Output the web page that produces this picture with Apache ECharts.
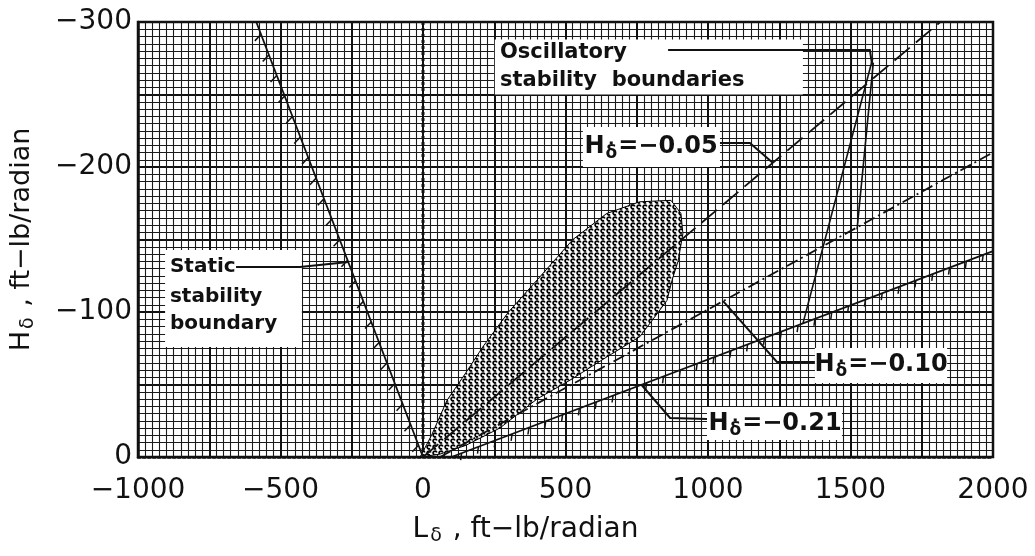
<!DOCTYPE html>
<html><head><meta charset="utf-8">
<script src="https://cdn.jsdelivr.net/npm/echarts@6/dist/echarts.min.js"></script>
<style>html,body{margin:0;padding:0;background:#fff}#c{width:1035px;height:556px}</style>
</head><body><div id="c"></div>
<script>
// ---------- data ----------
const xTickLabels = [-1000, -500, 0, 500, 1000, 1500, 2000];
const yTickLabels = [-300, -200, -100, 0];

// static stability boundary (L, H)
const staticL = [-585, 0];
const staticH = [-300, 0];
// H_delta-dot = -0.05 (long dashes)
const hd05L = [0, 1815];
const hd05H = [0, -300];
// H_delta-dot = -0.10 (dash-dot)
const hd10L = [60, 2000];
const hd10H = [0, -210];
// H_delta-dot = -0.21 (solid, ticked)
const hd21L = [100, 2000];
const hd21H = [0, -142];
// oscillatory stability boundaries (steep branches)
const oscAL = [1333, 1578];
const oscAH = [-92, -275];
const oscBL = [1523, 1580];
const oscBH = [-157, -272];
// zero line
const zeroL = [0, 0];
const zeroH = [0, -300];
// stippled region outline
const shadeL = [-10, 30, 84, 150, 210, 300, 400, 526, 645, 760, 870, 905, 912, 895, 874, 856, 807, 761, 645, 516, 400, 270, 150, 60];
const shadeH = [0, -15, -39, -58, -76, -100, -122, -150, -168, -176, -177, -168, -154, -135, -122, -108, -95, -83, -69, -53, -40, -20, -8, -2];

// ---------- styling / annotations ----------
const FONT = '"DejaVu Sans", sans-serif';
const INK = '#111';
const RICH = {
  h: {fontSize: 24, fontWeight: 'bold', fontFamily: FONT, color: INK},
  s: {fontSize: 17, fontWeight: 'bold', fontFamily: FONT, color: INK, padding: [14, 1, 0, 1]}
};
const notes = [
  {box: [252, -288, 1333, -250], size: 21,
   lines: [{t: 'Oscillatory', at: [270, -278.6]}, {t: 'stability  boundaries', at: [270, -259.3]}],
   leader: [[860, -280.7], [1568, -280.7], [1575, -271.7]]},
  {box: [561, -227.6, 1042, -200],
   lines: [{t: '{h|H}{s|δ̇}{h|=−0.05}', at: [800, -213.8], align: 'center'}],
   leader: [[1042, -216.6], [1147, -216.6], [1228, -202.8]]},
  {box: [-905, -142.8, -425, -75.9], size: 20,
   lines: [{t: 'Static', at: [-888, -131]}, {t: 'stability', at: [-888, -110.3]}, {t: 'boundary', at: [-888, -91.7]}],
   leader: [[-656, -131], [-432, -131], [-262, -134.5]]},
  {box: [1375, -75.2, 1839, -51],
   lines: [{t: '{h|H}{s|δ̇}{h|=−0.10}', at: [1607, -63.4], align: 'center'}],
   leader: [[1375, -65.5], [1242, -65.5], [1053, -107.5]]},
  {box: [996.5, -34.5, 1470, -11.7],
   lines: [{t: '{h|H}{s|δ̇}{h|=−0.21}', at: [1235, -22.8], align: 'center'}],
   leader: [[996.5, -26.2], [867, -26.9], [768, -49.5]]}
];

function pairs(a, b) { return a.map((v, i) => [v, b[i]]); }
function minus(v) { return String(v).replace('-', '\u2212'); }

function makeStipple() {
  const c = document.createElement('canvas');
  c.width = 6; c.height = 6;
  const g = c.getContext('2d');
  g.fillStyle = '#fff'; g.fillRect(0, 0, 6, 6);
  g.strokeStyle = '#000'; g.lineWidth = 1.7;
  g.beginPath(); g.arc(3, 3, 1.9, 0.3 * Math.PI, 1.9 * Math.PI); g.stroke();
  return c;
}
const stipple = makeStipple();

function hatchRender(side, spacing, len, angle) {
  return function (params, api) {
    const p0 = api.coord([api.value(0), api.value(1)]);
    const p1 = api.coord([api.value(2), api.value(3)]);
    const dx = p1[0] - p0[0], dy = p1[1] - p0[1];
    const D = Math.hypot(dx, dy);
    const ux = dx / D, uy = dy / D;
    const nx = -uy * side, ny = ux * side;
    const hx = nx * Math.cos(angle) + ux * Math.sin(angle);
    const hy = ny * Math.cos(angle) + uy * Math.sin(angle);
    const children = [];
    for (let s = spacing * 0.6; s < D - 2; s += spacing) {
      const x = p0[0] + ux * s, y = p0[1] + uy * s;
      children.push({type: 'line', shape: {x1: x, y1: y, x2: x + hx * len, y2: y + hy * len},
        style: {stroke: INK, lineWidth: 1.5}});
    }
    return {type: 'group', children};
  };
}

function noteRender(params, api) {
  const n = notes[params.dataIndex];
  const c = p => api.coord(p);
  const b0 = c([n.box[0], n.box[1]]), b1 = c([n.box[2], n.box[3]]);
  const children = [{type: 'rect', shape: {x: Math.min(b0[0], b1[0]), y: Math.min(b0[1], b1[1]),
      width: Math.abs(b1[0] - b0[0]), height: Math.abs(b1[1] - b0[1])}, style: {fill: '#fff'}}];
  children.push({type: 'polyline', shape: {points: n.leader.map(c)}, style: {stroke: INK, lineWidth: 2, fill: null}});
  n.lines.forEach(l => {
    const p = c(l.at);
    children.push({type: 'text', style: {text: l.t, x: p[0], y: p[1], align: l.align || 'left',
      verticalAlign: 'middle', fontSize: n.size || 24, fontWeight: 'bold', fontFamily: FONT, fill: INK, rich: RICH}});
  });
  return {type: 'group', children};
}

const lineStyleBase = {color: INK, width: 1.8};
function lineSeries(L, H, extra) {
  return {type: 'line', data: pairs(L, H), symbol: 'none', z: 4,
    lineStyle: Object.assign({}, lineStyleBase, extra || {}), silent: true, animation: false};
}

const chart = echarts.init(document.getElementById('c'), null, {renderer: 'canvas'});
chart.setOption({
  backgroundColor: '#fff',
  animation: false,
  grid: {left: 138, right: 42, top: 22, bottom: 99, show: true, borderColor: INK, borderWidth: 2.5},
  xAxis: {
    type: 'value', min: -1000, max: 2000, interval: 250,
    axisLine: {show: true, onZero: false, lineStyle: {color: INK, width: 2.5, type: 'dotted'}},
    axisTick: {show: false},
    splitLine: {show: true, lineStyle: {color: INK, width: 2}},
    minorTick: {show: false, splitNumber: 10},
    minorSplitLine: {show: true, lineStyle: {color: '#1a1a1a', width: 1.1}},
    axisLabel: {margin: 20, fontSize: 28, fontFamily: FONT, color: INK,
      formatter: v => xTickLabels.includes(v) ? minus(v) : ''},
    name: '{i|L}{s|δ}{i| , ft−lb/radian}', nameLocation: 'middle', nameGap: 56,
    nameTextStyle: {padding: [0, 80, 0, 0], rich: {
      i: {fontSize: 28, fontFamily: FONT, color: INK},
      s: {fontSize: 19, fontFamily: FONT, color: INK, padding: [14, 2, 0, 2]}}}
  },
  yAxis: {
    type: 'value', min: -300, max: 0, interval: 50, inverse: true,
    axisLine: {show: true, onZero: false, lineStyle: {color: INK, width: 2.5}},
    axisTick: {show: false},
    splitLine: {show: true, lineStyle: {color: INK, width: 2}},
    minorTick: {show: false, splitNumber: 10},
    minorSplitLine: {show: true, lineStyle: {color: '#1a1a1a', width: 1.1}},
    axisLabel: {margin: 6, fontSize: 28, fontFamily: FONT, color: INK,
      formatter: v => yTickLabels.includes(v) ? minus(v) : ''},
    name: '{i|H}{s|δ}{i| , ft−lb/radian}', nameLocation: 'middle', nameGap: 100, nameRotate: 90,
    nameTextStyle: {rich: {
      i: {fontSize: 27, fontFamily: FONT, color: INK},
      s: {fontSize: 19, fontFamily: FONT, color: INK, padding: [14, 2, 0, 2]}}}
  },
  series: [
    {type: 'custom', z: 2, silent: true, data: [[shadeL[0], shadeH[0]]],
     renderItem: (params, api) => ({type: 'polygon',
       shape: {points: pairs(shadeL, shadeH).map(p => api.coord(p))},
       style: {fill: {image: stipple, repeat: 'repeat'}, stroke: '#000', lineWidth: 1}})},
    lineSeries(zeroL, zeroH, {type: 'dotted', width: 3}),
    lineSeries(staticL, staticH, {width: 1.8}),
    lineSeries(hd05L, hd05H, {type: [20, 8], width: 1.8}),
    lineSeries(hd10L, hd10H, {type: [12, 4, 2, 4], width: 1.8}),
    lineSeries(hd21L, hd21H, {width: 1.8}),
    lineSeries(oscAL, oscAH, {width: 1.6}),
    lineSeries(oscBL, oscBH, {width: 1.6}),
    {type: 'custom', z: 4, silent: true, data: [[staticL[0], staticH[0], staticL[1], staticH[1]]],
     renderItem: hatchRender(1, 22, 9, 0.45)},
    {type: 'custom', z: 4, silent: true, data: [[hd21L[0], hd21H[0], hd21L[1], hd21H[1]]],
     renderItem: hatchRender(1, 18, 7, -0.5)},
    {type: 'custom', z: 6, silent: true, clip: false, data: notes.map(n => [n.box[0], n.box[1]]),
     renderItem: noteRender}
  ]
});
</script>
</body></html>
